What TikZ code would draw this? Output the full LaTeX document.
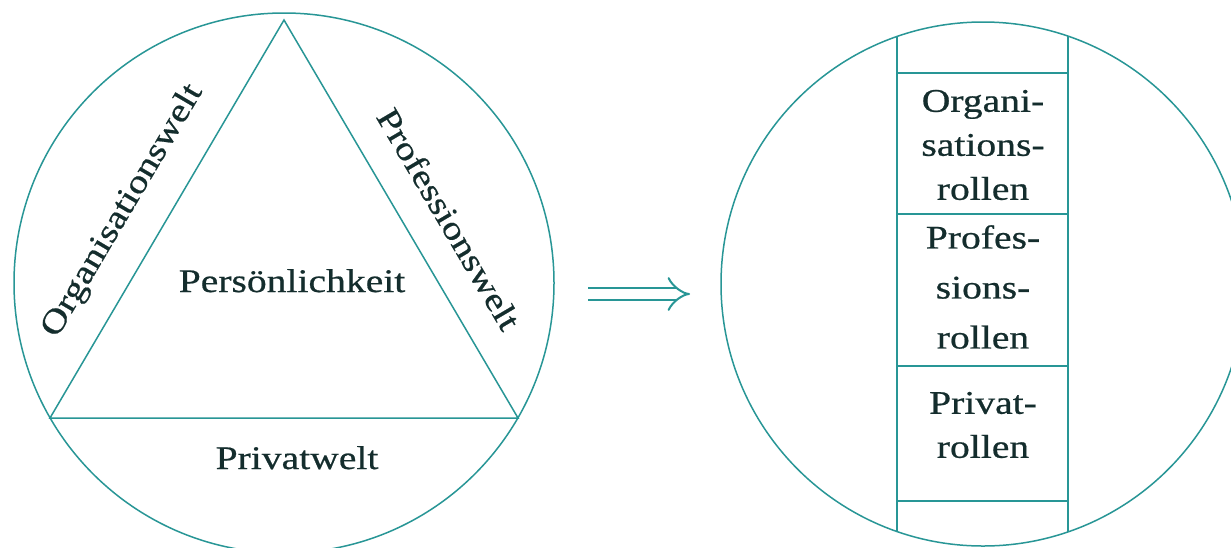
\documentclass[tikz,border=0pt]{standalone}
\usepackage{fontspec}
\setmainfont{Liberation Serif}[FakeStretch=1.2,FakeBold=0.6]
\usepackage{tikz}
\usetikzlibrary{arrows.meta,calc}
\definecolor{myteal}{RGB}{40,150,150}
\definecolor{mytext}{RGB}{20,45,45}

\begin{document}
\begin{tikzpicture}[x=1pt,y=-1pt,
  line/.style={myteal,line width=1.5pt},
  ring/.style={line,draw,circle,inner sep=0pt},
  lbl/.style={text=mytext,font=\fontsize{33}{44}\selectfont,inner sep=0pt},
  cell/.style={lbl,align=center}]
  \clip (0,0) rectangle (1231,547);
  \fill[white] (0,0) rectangle (1231,547);
  % left: the three worlds
  \node[ring,minimum size=540pt](lc) at (284,283) {};
  \coordinate (top) at (284,20);
  \coordinate (bl) at (50,418);
  \coordinate (br) at (518,418);
  \draw[line] (top)--(bl)--(br)--cycle;
  \node[lbl,rotate=59.5](org) at (123,211) {Organisationswelt};
  \node[lbl,rotate=-59.5](prof) at (449,219) {Professionswelt};
  \node[lbl,anchor=base](pers) at (292,292) {Persönlichkeit};
  \node[lbl,anchor=base](priv) at (297,469) {Privatwelt};
  % arrow
  \coordinate (as) at (588,294);
  \coordinate (ae) at (690,294);
  \draw[myteal,line width=2pt,double distance=10pt,-{Implies[scale=1.3]}] (as)--(ae);
  % right: roles
  \node[ring,minimum size=524pt](rc) at (983,284) {};
  \draw[line] (897,36)--(897,532);
  \draw[line] (1068,36)--(1068,532);
  \foreach \y in {73,214,366,501}
    \draw[line] (897,\y)--(1068,\y);
  \node[cell](orgr) at (983,145) {Organi-\\sations-\\rollen};
  \node[cell,font=\fontsize{33}{50}\selectfont](profr) at (983,287) {Profes-\\sions-\\rollen};
  \node[cell](privr) at (983,425) {Privat-\\rollen};
\end{tikzpicture}
\end{document}
